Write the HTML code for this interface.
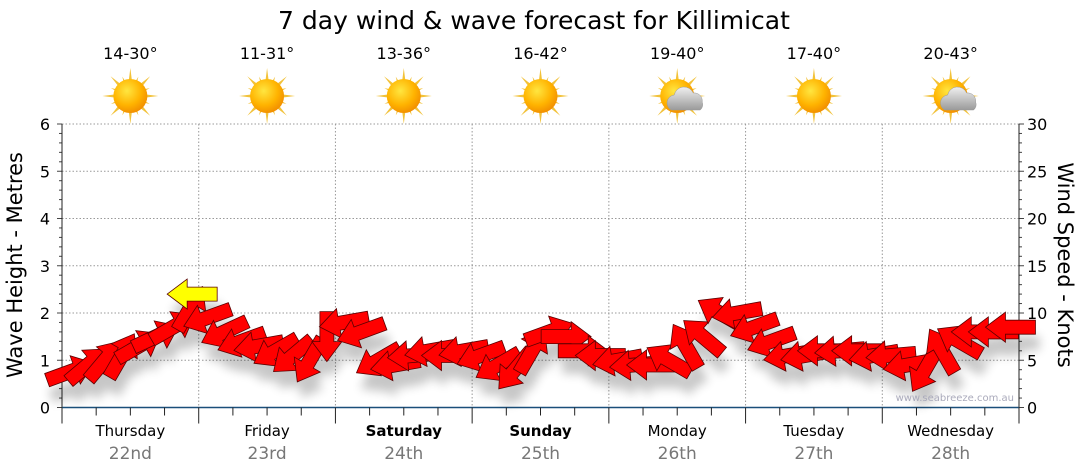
<!DOCTYPE html>
<html><head><meta charset="utf-8">
<style>
html,body{margin:0;padding:0;background:#fff;width:1080px;height:475px;overflow:hidden;font-family:"Liberation Sans",sans-serif;}
</style></head>
<body>
<svg id="chart" width="1080" height="475" viewBox="0 0 1080 475" xmlns="http://www.w3.org/2000/svg" font-family="DejaVu Sans, Liberation Sans, sans-serif">
<defs>
<radialGradient id="sunG" cx="0.4" cy="0.35" r="0.7"><stop offset="0" stop-color="#ffe640"/><stop offset="0.6" stop-color="#ffb300"/><stop offset="1" stop-color="#f08a00"/></radialGradient>
<linearGradient id="cloudG" x1="0" y1="0" x2="0" y2="1"><stop offset="0" stop-color="#f0f0f0"/><stop offset="1" stop-color="#9a9a9a"/></linearGradient>
<filter id="shadow" x="-50%" y="-50%" width="200%" height="200%"><feGaussianBlur stdDeviation="5"/></filter>
</defs>
<text x="534" y="29" text-anchor="middle" font-size="25" fill="#000">7 day wind &amp; wave forecast for Killimicat</text>
<g id="grid"></g>
<g id="axes"></g>
<g id="icons"></g>
<g id="shadows" filter="url(#shadow)" opacity="0.22"></g>
<g id="arrows"></g>
<text x="1014" y="401" text-anchor="end" font-size="10" fill="#aab">www.seabreeze.com.au</text>
<text transform="translate(22,265) rotate(-90)" text-anchor="middle" font-size="21" fill="#000">Wave Height - Metres</text>
<text transform="translate(1058,265) rotate(90)" text-anchor="middle" font-size="21" fill="#000">Wind Speed - Knots</text>
</svg>
<script>
const days = ["Thursday","Friday","Saturday","Sunday","Monday","Tuesday","Wednesday"];
const dates = ["22nd","23rd","24th","25th","26th","27th","28th"];
const boldDays = [false,false,true,true,false,false,false];
const temps = ["14-30°","11-31°","13-36°","16-42°","19-40°","17-40°","20-43°"];
const cloudy = [false,false,false,false,true,false,true];
const waveTicks = [0,1,2,3,4,5,6];
const windTicks = [0,5,10,15,20,25,30];
// 3-hourly wind speed (knots) and arrow pointing angle (deg, 0=right, negative=up)
const windSpeed = [3.8,4.5,5,5.5,6.5,7.5,8.5,10.5, 9.5,8,7,6.5,6,5.5,5,7.5, 9,8,5,4.5,5.5,6,5.5,6, 5.5,4.5,4,6,8,7.5,6,5.5, 5,4.5,4.5,5,6.5,7.5,10,10, 8.5,7,5.5,5.5,6,6,6,5.5, 5.5,4.5,4,6,7,8,8,8.5];
const windDir = [-20,-40,-50,-60,-30,-25,-30,-60, 160,155,160,170,150,140,120,90, 170,160,150,170,175,170,180,170, 160,150,130,-60,-20,0,0,180, 170,175,180,-150,-120,-140,-150,170, 160,160,170,170,180,175,180,170, 175,170,120,-120,-150,180,180,180];
const yellowSpeed = 12;
const yellowDir = 180;

const X0=62, X1=1019, Y0=407.5, YT=124;
const dayW=(X1-X0)/7;
function xPos(i){return X0+(i+0.5)*(dayW/8);}
function yWave(v){return Y0-(Y0-YT)*v/6;}
function yWind(v){return Y0-(Y0-YT)*v/30;}
const NS="http://www.w3.org/2000/svg";
function mk(tag,attrs,parent){const e=document.createElementNS(NS,tag);for(const k in attrs)e.setAttribute(k,attrs[k]);parent.appendChild(e);return e;}
const grid=document.getElementById('grid'),axes=document.getElementById('axes'),icons=document.getElementById('icons'),arrows=document.getElementById('arrows'),shadows=document.getElementById('shadows');

waveTicks.forEach(v=>{
  const y=yWave(v);
  if(v>0){const l=mk('line',{x1:X0,x2:X1,y1:y,y2:y,stroke:'#999','stroke-dasharray':'1.5,2','stroke-width':1},grid);
  
  }
  const t=mk('text',{x:X0-12,y:y+6,'text-anchor':'end','font-size':16,fill:'#000'},axes);t.textContent=v;
  
  
});
windTicks.forEach(v=>{
  const t=mk('text',{x:X1+8,y:yWind(v)+6,'font-size':16,fill:'#000'},axes);t.textContent=v;
  
  
});
for(let k=0;k<=30;k++){const y=yWind(k);mk('line',{x1:X0-(k%5==0?5:3),x2:X0,y1:y,y2:y,stroke:'#444'},axes);mk('line',{x1:X1,x2:X1+(k%5==0?5:3),y1:y,y2:y,stroke:'#444'},axes);}
mk('line',{x1:X0,x2:X0,y1:YT,y2:Y0+8,stroke:'#222'},axes);
mk('line',{x1:X1,x2:X1,y1:YT,y2:Y0,stroke:'#222'},axes);
mk('line',{x1:X0,x2:X1,y1:Y0,y2:Y0,stroke:'#1a4f7a','stroke-width':1.5},axes);
for(let k=0;k<=28;k++){const x=X0+k*dayW/4;mk('line',{x1:x,x2:x,y1:Y0,y2:Y0+(k%4==0?16:8),stroke:'#222'},axes);}

days.forEach((d,i)=>{
  const cx=X0+(i+0.5)*dayW;
  if(i>0){const l=mk('line',{x1:X0+i*dayW,x2:X0+i*dayW,y1:YT,y2:Y0,stroke:'#999','stroke-dasharray':'1.5,2'},grid);
  
  }
  const t=mk('text',{x:cx,y:436,'text-anchor':'middle','font-size':15,fill:'#000','font-weight':boldDays[i]?'bold':'normal'},axes);t.textContent=d;
  
  
  const t2=mk('text',{x:cx,y:459,'text-anchor':'middle','font-size':17,fill:'#777'},axes);t2.textContent=dates[i];
  
  
  const t3=mk('text',{x:cx,y:59,'text-anchor':'middle','font-size':16,fill:'#000'},icons);t3.textContent=temps[i];
  
  
  const g=mk('g',{transform:`translate(${cx},96)`},icons);
  
  
  for(let r=0;r<16;r++){const a=r*22.5;const L=r%2?21:28;mk('polygon',{points:`-3.5,0 0,-${L} 3.5,0`,fill:'#f2c23a',transform:`rotate(${a})`},g);}
  mk('circle',{cx:0,cy:0,r:17,fill:'url(#sunG)'},g);
  if(cloudy[i]){mk('path',{d:'M-6,14 a8,8 0 0 1 3,-15 a10,10 0 0 1 19,-2 a8,8 0 0 1 9,9 a7,7 0 0 1 -2,8 z',fill:'url(#cloudG)',stroke:'#999','stroke-width':0.5},g);}
});

function arrowPts(){return "-25,-7 5,-7 5,-15 25,0 5,15 5,7 -25,7";}
function drawArrow(x,y,ang,fill,name){
  mk('polygon',{points:arrowPts(),transform:`translate(${x+4},${y+16}) rotate(${ang})`,fill:'#000'},shadows);
  const p=mk('polygon',{points:arrowPts(),transform:`translate(${x},${y}) rotate(${ang})`,fill:fill,stroke:'#5a0000','stroke-width':0.8},arrows);
  
  
}
windSpeed.forEach((v,i)=>drawArrow(xPos(i),yWind(v),windDir[i],'#ff0000','wind-arrow'));
drawArrow(xPos(7)+2,yWind(yellowSpeed),yellowDir,'#ffff00','wave-direction-arrow');
</script>
</body></html>
